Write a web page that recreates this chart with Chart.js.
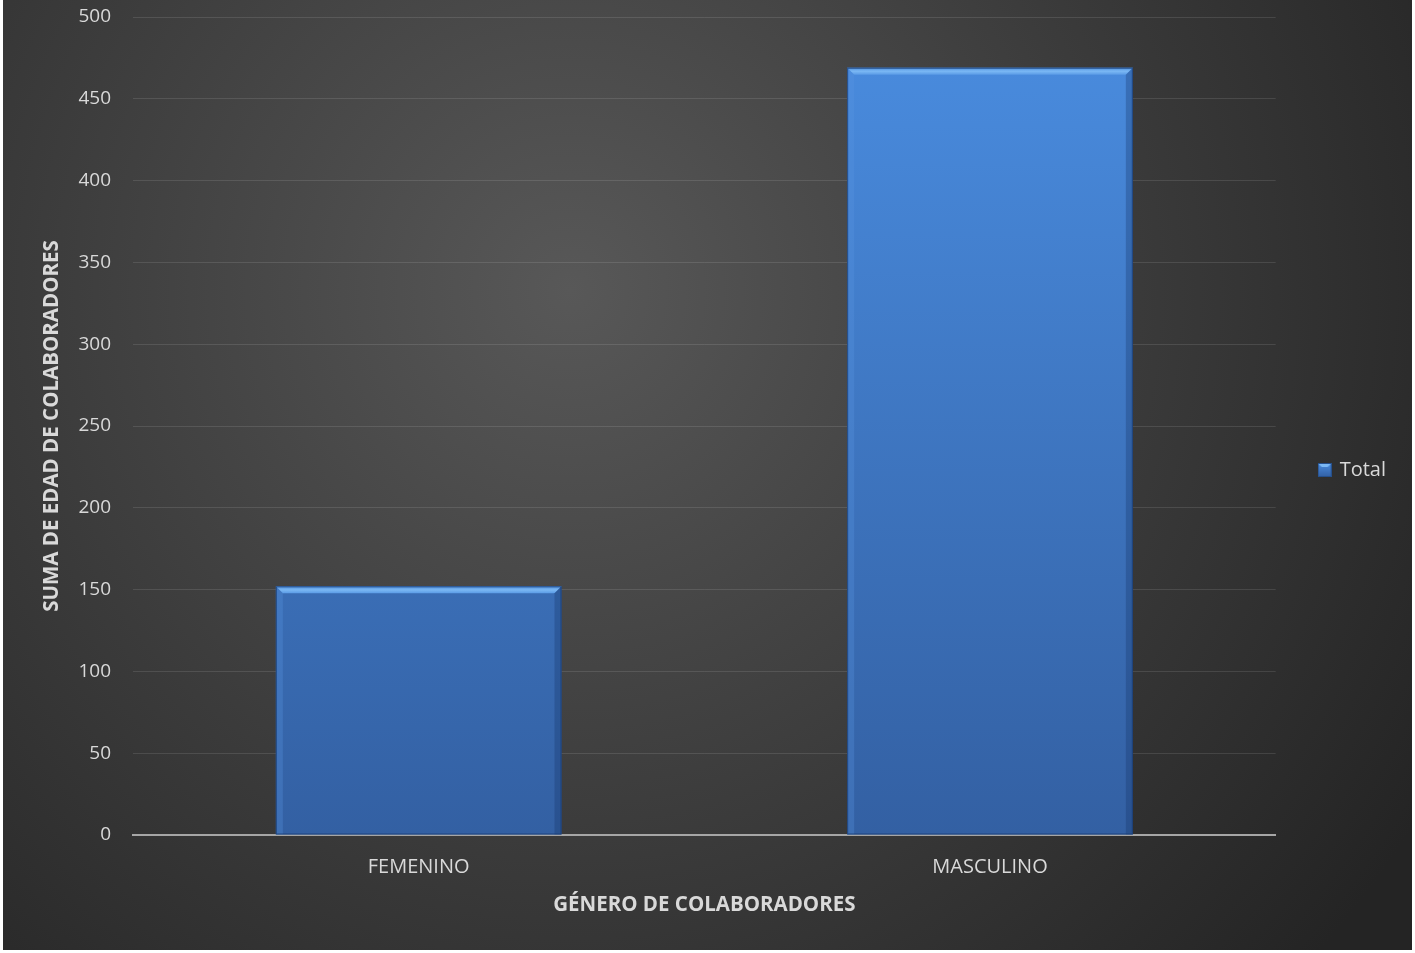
<!DOCTYPE html>
<html>
<head>
<meta charset="utf-8">
<script src="https://cdn.jsdelivr.net/npm/chart.js@4/dist/chart.umd.min.js"></script>
<style>
  html, body { margin: 0; padding: 0; background: #fff; }
  canvas { display: block; }
</style>
</head>
<body>
<canvas id="chart-edad" width="1415" height="953"></canvas>
<script>
// ─── Data ─────────────────────────────────────────────────────────────────────
const categories = ['FEMENINO', 'MASCULINO'];
const totals = [152, 469];
const seriesName = 'Total';
const yTicks = [0, 50, 100, 150, 200, 250, 300, 350, 400, 450, 500];

const FONT = '"Open Sans", "Liberation Sans", sans-serif';
const TXT = '#d9d9d9';

// ─── Dark frame with radial light ─────────────────────────────────────────────
const frameBg = {
  id: 'frameBg',
  beforeDraw(chart) {
    const { ctx } = chart;
    ctx.save();
    const g = ctx.createRadialGradient(570, 290, 0, 570, 290, 1000);
    g.addColorStop(0, '#585858');
    g.addColorStop(0.55, '#3b3b3b');
    g.addColorStop(1, '#242424');
    ctx.fillStyle = g;
    ctx.fillRect(3, 0, 1409, 950);
    ctx.restore();
  },
};

// ─── Bevel on bars ────────────────────────────────────────────────────────────
const bevel = {
  id: 'bevel',
  afterDatasetsDraw(chart) {
    const { ctx } = chart;
    const b = 7;
    chart.getDatasetMeta(0).data.forEach(bar => {
      const l = bar.x - bar.width / 2, r = bar.x + bar.width / 2;
      const t = bar.y, bt = bar.base;
      ctx.save();
      // top
      ctx.beginPath();
      ctx.moveTo(l, t); ctx.lineTo(r, t); ctx.lineTo(r - b, t + b); ctx.lineTo(l + b, t + b); ctx.closePath();
      const gt = ctx.createLinearGradient(0, t, 0, t + b);
      gt.addColorStop(0, '#4d8fdd'); gt.addColorStop(0.5, '#7bb8f4'); gt.addColorStop(1, '#5a9be6');
      ctx.fillStyle = gt; ctx.fill();
      // left
      ctx.beginPath();
      ctx.moveTo(l, t); ctx.lineTo(l + b, t + b); ctx.lineTo(l + b, bt); ctx.lineTo(l, bt); ctx.closePath();
      ctx.fillStyle = 'rgba(90,150,225,0.3)'; ctx.fill();
      // right
      ctx.beginPath();
      ctx.moveTo(r, t); ctx.lineTo(r - b, t + b); ctx.lineTo(r - b, bt); ctx.lineTo(r, bt); ctx.closePath();
      ctx.fillStyle = 'rgba(20,50,100,0.3)'; ctx.fill();
      // edge
      ctx.strokeStyle = 'rgba(25,60,115,0.8)';
      ctx.lineWidth = 1;
      ctx.strokeRect(l + 0.5, t + 0.5, r - l - 1, bt - t - 1);
      ctx.restore();
    });
  },
};

// ─── Legend swatch ────────────────────────────────────────────────────────────
function makeSwatch() {
  const c = document.createElement('canvas');
  c.width = 14; c.height = 14;
  const x = c.getContext('2d');
  const g = x.createLinearGradient(0, 0, 0, 14);
  g.addColorStop(0, '#4a8de0'); g.addColorStop(1, '#3360a3');
  x.fillStyle = g; x.fillRect(0, 0, 14, 14);
  x.fillStyle = '#7bb8f4';
  x.beginPath(); x.moveTo(0, 0); x.lineTo(14, 0); x.lineTo(10, 4); x.lineTo(4, 4); x.closePath(); x.fill();
  x.strokeStyle = '#26508c'; x.strokeRect(0.5, 0.5, 13, 13);
  return c;
}

const ctx = document.getElementById('chart-edad').getContext('2d');
new Chart(ctx, {
  type: 'bar',
  data: {
    labels: categories,
    datasets: [{
      label: seriesName,
      data: totals,
      backgroundColor: (c) => {
        const area = c.chart.chartArea;
        if (!area) return '#3f7cc8';
        const g = c.chart.ctx.createLinearGradient(0, area.top, 0, area.bottom);
        g.addColorStop(0, '#4a8de0');
        g.addColorStop(1, '#3360a3');
        return g;
      },
      borderWidth: 0,
      categoryPercentage: 1,
      barPercentage: 0.5,
    }],
  },
  options: {
    responsive: false,
    animation: false,
    devicePixelRatio: 1,
    layout: { padding: { top: 1, left: 0, right: 19, bottom: 14 } },
    plugins: {
      legend: {
        position: 'right',
        labels: {
          usePointStyle: true,
          pointStyle: makeSwatch(),
          boxWidth: 10,
          color: TXT,
          font: { family: FONT, size: 20 },
          padding: 44,
        },
      },
      tooltip: { enabled: false },
    },
    scales: {
      x: {
        grid: { display: false, drawTicks: false },
        border: { display: true, color: '#a6a6a6', width: 2 },
        ticks: { color: TXT, font: { family: FONT, size: 20 }, padding: 20 },
        title: {
          display: true, text: 'GÉNERO DE COLABORADORES', color: TXT,
          font: { family: FONT, size: 20.5, weight: 'bold' }, padding: { top: 0, bottom: 22 },
        },
        afterFit: (s) => { s.height = 104; },
      },
      y: {
        min: 0, max: 500,
        afterBuildTicks: (s) => { s.ticks = yTicks.map(v => ({ value: v })); },
        grid: { color: 'rgba(255,255,255,0.11)', drawTicks: false },
        border: { display: false },
        ticks: { color: TXT, font: { family: FONT, size: 19 }, padding: 22 },
        title: {
          display: true, text: 'SUMA DE EDAD DE COLABORADORES', color: TXT,
          font: { family: FONT, size: 20.5, weight: 'bold' }, padding: { top: 40, bottom: 0 },
        },
        afterFit: (s) => { s.width = 133; s.paddingTop = 17; s.paddingBottom = 0; },
      },
    },
  },
  plugins: [frameBg, bevel],
});
</script>
</body>
</html>
